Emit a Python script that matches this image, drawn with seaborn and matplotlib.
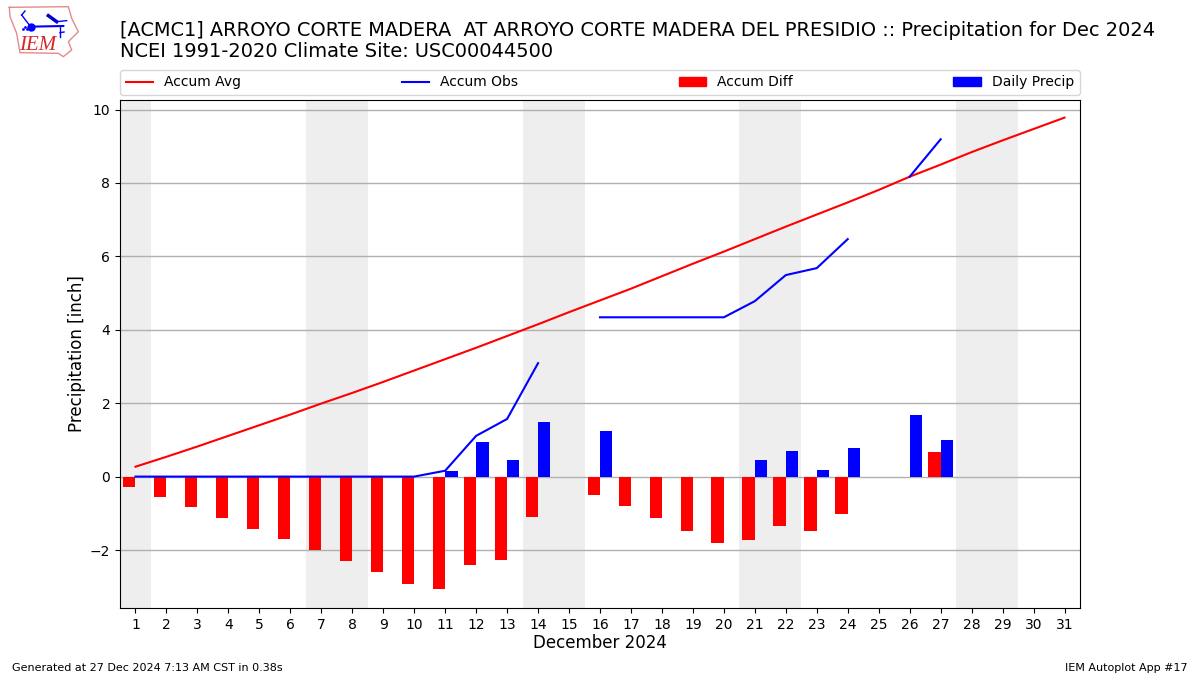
import numpy as np
import pandas as pd
import seaborn as sns
import matplotlib.pyplot as plt
from matplotlib.lines import Line2D
from matplotlib.patches import Patch

nan = np.nan

# values
days = list(range(1, 32))
accum_avg = [0.27, 0.54, 0.82, 1.11, 1.40, 1.69, 1.99, 2.28, 2.58, 2.89, 3.20,
             3.51, 3.83, 4.15, 4.48, 4.80, 5.12, 5.46, 5.80, 6.13, 6.47, 6.81,
             7.14, 7.47, 7.81, 8.17, 8.50, 8.84, 9.16, 9.47, 9.78]
accum_obs = [0, 0, 0, 0, 0, 0, 0, 0, 0, 0, 0.16, 1.11, 1.57, 3.09, nan, 4.34,
             4.34, 4.34, 4.34, 4.34, 4.78, 5.49, 5.68, 6.47, nan, 8.17, 9.19,
             nan, nan, nan, nan]
accum_diff = [-0.27, -0.55, -0.82, -1.12, -1.42, -1.69, -1.99, -2.29, -2.59,
              -2.92, -3.05, -2.40, -2.26, -1.09, nan, -0.49, -0.79, -1.12,
              -1.47, -1.80, -1.72, -1.34, -1.47, -1.01, nan, nan, 0.68,
              nan, nan, nan, nan]
daily_precip = [nan, nan, nan, nan, nan, nan, nan, nan, nan, nan, 0.16, 0.95,
                0.46, 1.50, nan, 1.25, nan, nan, nan, nan, 0.44, 0.71, 0.19,
                0.79, nan, 1.69, 1.01, nan, nan, nan, nan]
weekends = [(0.5, 1.5), (6.5, 8.5), (13.5, 15.5), (20.5, 22.5), (27.5, 29.5)]

title = ('[ACMC1] ARROYO CORTE MADERA  AT ARROYO CORTE MADERA DEL PRESIDIO :: '
         'Precipitation for Dec 2024\nNCEI 1991-2020 Climate Site: USC00044500')

df = pd.DataFrame({'day': days, 'avg': accum_avg, 'obs': accum_obs,
                   'Accum Diff': accum_diff, 'Daily Precip': daily_precip})
df['segment'] = df['obs'].isna().cumsum()
bars = df.melt(id_vars='day', value_vars=['Accum Diff', 'Daily Precip'],
               var_name='series', value_name='value')

fig = plt.figure(figsize=(12, 6.75), dpi=100)
ax = fig.add_axes([120 / 1200, 1 - 608 / 675, 960 / 1200, 508 / 675])

for start, end in weekends:
    ax.axvspan(start, end, color='#eeeeee', lw=0, zorder=0)

sns.barplot(data=bars, x='day', y='value', hue='series', native_scale=True,
            hue_order=['Accum Diff', 'Daily Precip'],
            palette={'Accum Diff': 'red', 'Daily Precip': 'blue'},
            width=0.8, gap=0, saturation=1, errorbar=None, legend=False,
            zorder=2, ax=ax)
sns.lineplot(data=df, x='day', y='avg', color='red', lw=1.5, estimator=None,
             legend=False, zorder=3, ax=ax)
sns.lineplot(data=df.dropna(subset=['obs']), x='day', y='obs', units='segment',
             estimator=None, color='blue', lw=1.5, legend=False, zorder=3, ax=ax)

ax.set_xlim(0.5, 31.5)
ax.set_ylim(-3.58, 10.26)
ax.set_xticks(days)
ax.set_xticklabels([str(d) for d in days])
ax.set_yticks(range(-2, 11, 2))
ax.tick_params(labelsize=10)
ax.grid(axis='y', color='#b0b0b0', lw=1)
ax.set_axisbelow(True)
ax.set_xlabel('December 2024', fontsize=12, labelpad=2)
ax.set_ylabel('Precipitation [inch]', fontsize=12, labelpad=3)

handles = [Line2D([], [], color='red', lw=1.5),
           Line2D([], [], color='blue', lw=1.5),
           Patch(color='red'), Patch(color='blue')]
ax.legend(handles, ['Accum Avg', 'Accum Obs', 'Accum Diff', 'Daily Precip'],
          ncol=4, mode='expand', loc='lower left', borderaxespad=0,
          bbox_to_anchor=(0, 1.01, 1, 0.05), fontsize=10)

fig.text(120 / 1200, 1 - 61 / 675, title, fontsize=13.985, va='bottom', linespacing=1.1)
fig.text(12 / 1200, 1 - 671 / 675, 'Generated at 27 Dec 2024 7:13 AM CST in 0.38s', fontsize=8)
fig.text(1188 / 1200, 1 - 671 / 675, 'IEM Autoplot App #17', fontsize=8, ha='right')

# little IEM logo, top left
logo = fig.add_axes([0, 1 - 60 / 675, 80 / 1200, 60 / 675])
logo.set_xlim(0, 240)
logo.set_ylim(180, 0)
logo.axis('off')
logo.plot([28, 205, 215, 235, 205, 215, 190, 175, 60, 50, 30, 28],
          [22, 20, 55, 95, 125, 150, 170, 160, 158, 100, 50, 22],
          color='#e58a8a', lw=1)
logo.plot([92, 190], [80, 78], color='blue', lw=1.5)
logo.plot([65, 92], [45, 80], color='blue', lw=1)
logo.plot([65, 75], [45, 33], color='blue', lw=1)
logo.plot([92], [80], 'o', color='blue', ms=5)
logo.plot([145, 170], [47, 65], color='#0000cc', lw=2.5)
logo.plot([170, 200], [65, 62], color='blue', lw=1)
logo.plot([180, 180], [78, 110], color='blue', lw=1)
logo.plot([180, 192], [98, 96], color='blue', lw=1)
logo.plot([70, 75, 80], [88, 80, 88], ls='none', marker='.', ms=2, color='blue')
logo.text(112, 136, 'IEM', color='#d62828', fontsize=15, style='italic',
          family='Liberation Serif', ha='center', va='center')

plt.savefig('out.png', dpi=100)
